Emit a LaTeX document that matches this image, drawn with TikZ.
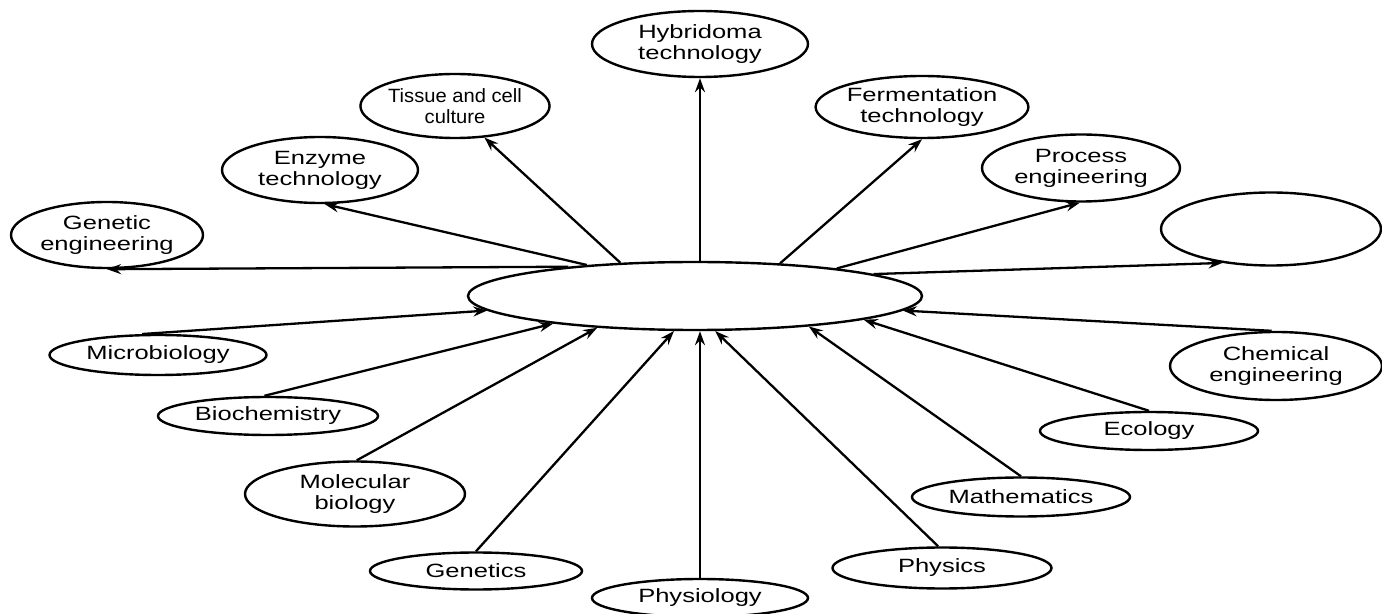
\documentclass[tikz,border=0pt]{standalone}
\usepackage{fontspec}
\setmainfont{Liberation Sans}[FakeStretch=1.33]
\newfontfamily\narrowfont{Liberation Sans}[FakeStretch=1.05]
\usetikzlibrary{arrows.meta,shapes.geometric}
\begin{document}
\begin{tikzpicture}[x=0.5pt,y=-0.5pt,
  bub/.style 2 args={ellipse, draw, line width=1.2pt, inner sep=0pt, align=center,
    minimum width={#1*0.5pt}, minimum height={#2*0.5pt},
    font=\fontsize{9.6}{10.5}\selectfont},
  arr/.style={line width=1.15pt, -{Stealth[length=7pt,width=5pt,inset=2.4pt]}}]
\useasboundingbox (0,0) rectangle (1382,614);
\clip (0,0) rectangle (1382,614);
\node[bub={454}{68}] (core) at (695,296) {};
\node[bub={216}{66}] (hyb) at (700,44) {Hybridoma\\technology};
\node[bub={164}{64}] (tis) at (455,106) {\narrowfont Tissue and cell\\\narrowfont culture};
\node[bub={210}{62}] (ferm) at (922,107) {Fermentation\\technology};
\node[bub={196}{66}] (enz) at (320,170) {Enzyme\\technology};
\node[bub={198}{67}] (proc) at (1081,168) {Process\\engineering};
\node[bub={192}{66}] (gen) at (107,235) {Genetic\\engineering};
\node[bub={220}{73}] (emp) at (1271,229) {};
\node[bub={217}{40}] (micro) at (158,355) {Microbiology};
\node[bub={220}{38}] (bio) at (268,416) {Biochemistry};
\node[bub={212}{68}] (chem) at (1276,366) {Chemical\\engineering};
\node[bub={218}{38}] (eco) at (1149,431) {Ecology};
\node[bub={220}{65}] (mol) at (355,494) {Molecular\\biology};
\node[bub={218}{39}] (math) at (1021,497) {Mathematics};
\node[bub={212}{37}] (genet) at (476,571) {Genetics};
\node[bub={219}{41}] (phy) at (942,568) {Physics};
\node[bub={216}{38}] (phys) at (700,598) {Physiology};
% outgoing
\draw[arr] (core.167) -- (gen.south);
\draw[arr] (core.164) -- (enz.-82);
\draw[arr] (core.156) -- (tis.-47);
\draw[arr] (hyb.south |- core.north) -- (hyb.south);
\draw[arr] (core.21) -- (ferm.south);
\draw[arr] (core.11) -- (proc.-92);
\draw[arr] (core.7) -- (emp.-145);
% incoming
\draw[arr] (micro.127) -- (core.-176);
\draw[arr] (bio.100) -- (core.-169.5);
\draw[arr] (mol.87) -- (core.-162);
\draw[arr] (genet.north) -- (core.-121);
\draw[arr] (phys.north) -- (phys.north |- core.south);
\draw[arr] (phy.100) -- (core.-60);
\draw[arr] (math.north) -- (core.-15);
\draw[arr] (eco.north) -- (core.-8);
\draw[arr] (chem.97) -- (core.-4);
\end{tikzpicture}
\end{document}
